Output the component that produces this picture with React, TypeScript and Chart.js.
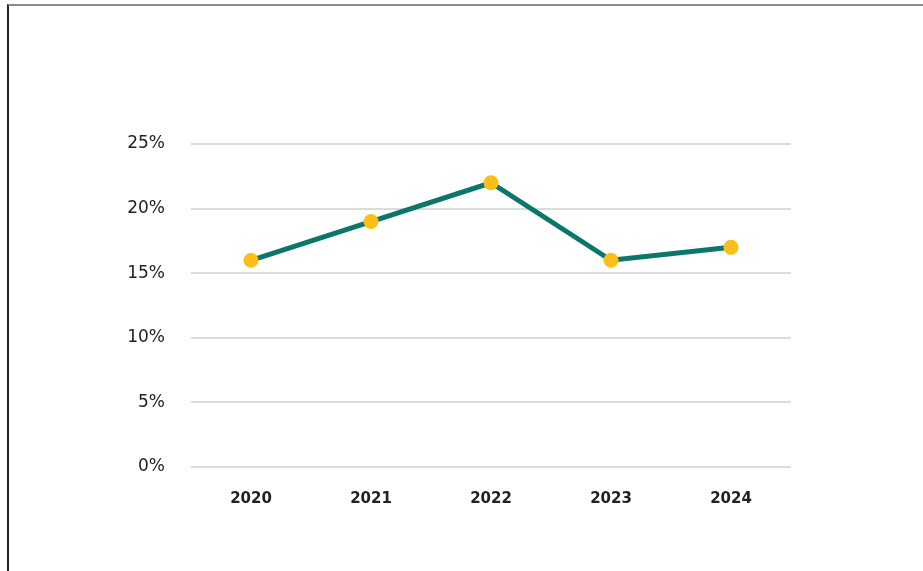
import React, { useEffect, useRef } from "react";
import { Chart, registerables } from "chart.js";

Chart.register(...registerables);

const categories: string[] = ["2020", "2021", "2022", "2023", "2024"];
const values: number[] = [16, 19, 22, 16, 17];
const yTicks: number[] = [0, 5, 10, 15, 20, 25];

export default function App() {
  const ref = useRef<HTMLCanvasElement | null>(null);

  useEffect(() => {
    if (!ref.current) return;
    const chart = new Chart(ref.current, {
      type: "line",
      data: {
        labels: categories,
        datasets: [
          {
            data: values,
            borderColor: "#0b7669",
            borderWidth: 5,
            pointBackgroundColor: "#fbbf1a",
            pointBorderColor: "#fbbf1a",
            pointRadius: 7.5,
            pointBorderWidth: 0,
            tension: 0,
          },
        ],
      },
      options: {
        animation: false,
        responsive: false,
        maintainAspectRatio: false,
        layout: { padding: { top: 144, right: 132, bottom: 0, left: 0 } },
        plugins: { legend: { display: false }, tooltip: { enabled: false } },
        scales: {
          x: {
            offset: true,
            grid: { display: false, drawTicks: false },
            border: { display: false },
            ticks: {
              color: "#222",
              padding: 23,
              font: { family: "'DejaVu Sans', sans-serif", size: 15, weight: "bold" },
            },
            afterFit: (s: any) => {
              s.height = 104;
            },
          },
          y: {
            min: 0,
            max: 25,
            afterBuildTicks: (s: any) => {
              s.ticks = yTicks.map((v) => ({ value: v }));
            },
            grid: { color: "#dcdcdc", lineWidth: 2, drawTicks: false },
            border: { display: false },
            ticks: {
              color: "#222",
              padding: 26,
              font: { family: "'DejaVu Sans', sans-serif", size: 17 },
              callback: (v: any) => v + "%",
            },
            afterFit: (s: any) => {
              s.width = 191;
            },
          },
        },
      },
    });
    return () => chart.destroy();
  }, []);

  return (
    <div style={{ position: "fixed", left: 0, top: 0, width: 923, height: 571, overflow: "hidden", background: "#fff" }}>
      <div
        style={{
          position: "absolute",
          left: 7,
          top: 4,
          width: 1200,
          height: 1200,
          borderTop: "2px solid #8a8a8a",
          borderLeft: "2px solid #222",
        }}
      />
      <canvas ref={ref} width={923} height={571} style={{ position: "absolute", left: 0, top: 0, width: 923, height: 571 }} />
    </div>
  );
}
